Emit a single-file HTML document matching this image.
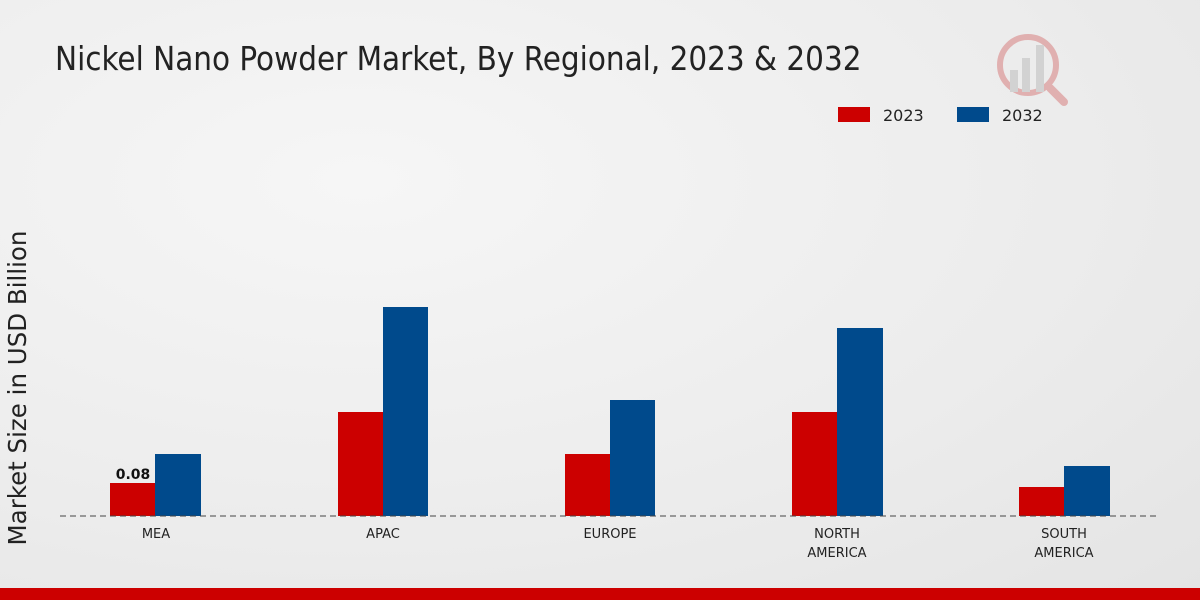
<!DOCTYPE html>
<html><head><meta charset="utf-8"><style>
html,body{margin:0;padding:0}
body{width:1200px;height:600px;overflow:hidden;background:radial-gradient(ellipse at 30% 30%,#f6f6f6 0%,#ececec 60%,#e4e4e4 100%);font-family:"DejaVu Sans","Liberation Sans",sans-serif;position:relative}
</style></head><body>
<svg width="1200" height="600" style="position:absolute;left:0;top:0">
<text x="55" y="70" font-family="'Liberation Sans Narrow','DejaVu Sans Condensed','Liberation Sans',sans-serif" font-size="32.8" fill="#222">Nickel Nano Powder Market, By Regional, 2023 &amp; 2032</text>
<g opacity="0.25">
<circle cx="1028" cy="65" r="28" fill="none" stroke="#c00000" stroke-width="6"/>
<rect x="1010" y="70" width="8" height="22" fill="#888"/>
<rect x="1022" y="58" width="8" height="34" fill="#888"/>
<rect x="1036" y="45" width="8" height="47" fill="#888"/>
<line x1="1050" y1="88" x2="1064" y2="102" stroke="#c00000" stroke-width="8" stroke-linecap="round"/>
</g>
<rect x="838" y="107" width="32" height="15" fill="#cc0000"/>
<text x="883" y="121" font-size="16" fill="#222">2023</text>
<rect x="957" y="107" width="32" height="15" fill="#004a8c"/>
<text x="1002" y="121" font-size="16" fill="#222">2032</text>
<text transform="translate(26,388) rotate(-90)" text-anchor="middle" font-size="24.5" fill="#222">Market Size in USD Billion</text>
<g fill="#cc0000">
<rect x="110" y="483" width="45" height="33"/>
<rect x="338" y="412" width="45" height="104"/>
<rect x="565" y="454" width="45" height="62"/>
<rect x="792" y="412" width="45" height="104"/>
<rect x="1019" y="487" width="45" height="29"/>
</g>
<g fill="#004a8c">
<rect x="155" y="454" width="46" height="62"/>
<rect x="383" y="307" width="45" height="209"/>
<rect x="610" y="400" width="45" height="116"/>
<rect x="837" y="328" width="46" height="188"/>
<rect x="1064" y="466" width="46" height="50"/>
</g>
<line x1="60" y1="516" x2="1160" y2="516" stroke="#444" stroke-width="1" stroke-dasharray="6,4"/>
<text x="133" y="479" text-anchor="middle" font-size="14" font-weight="bold" fill="#111">0.08</text>
<g font-size="13" fill="#222" text-anchor="middle">
<text x="156" y="538">MEA</text>
<text x="383" y="538">APAC</text>
<text x="610" y="538">EUROPE</text>
<text x="837" y="538">NORTH</text><text x="837" y="557">AMERICA</text>
<text x="1064" y="538">SOUTH</text><text x="1064" y="557">AMERICA</text>
</g>
<rect x="0" y="588" width="1200" height="12" fill="#cc0000"/>
</svg>
</body></html>
